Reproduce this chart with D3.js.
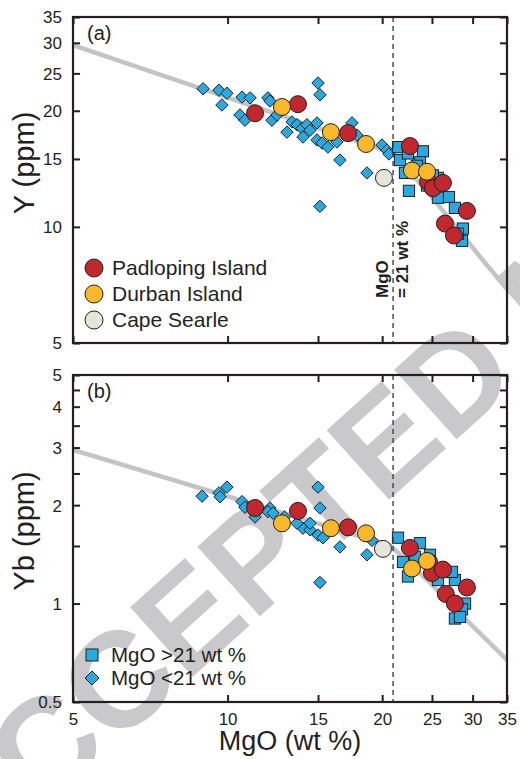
<!DOCTYPE html>
<html><head><meta charset="utf-8">
<script src="https://cdn.jsdelivr.net/npm/d3@7"></script>
<style>
html,body{margin:0;padding:0;background:#fff;}
svg{display:block;}
text{font-family:"Liberation Sans",Arial,sans-serif;fill:#231f20;}
</style></head>
<body>
<svg id="chart" width="520" height="759"></svg>
<script>
// ---------- DATA ----------
const xTicks = [5, 10, 15, 20, 25, 30, 35];
const yTicksA = [5, 10, 15, 20, 25, 30, 35];
const yTicksB = [0.5, 1, 1.5, 2, 2.5, 3, 3.5, 4, 4.5, 5];
const yLabelsB = [0.5, 1, 2, 3, 4, 5];
const mgoCut = 21;

// trend lines (MgO, value)
const trendA_mgo = [5, 20.7, 21.7, 24.8, 31.4, 35];
const trendA_y   = [29.6, 15.6, 14.8, 12.1, 8.2, 6.9];
const trendB_mgo = [5, 20.7, 24.8, 29.2, 35];
const trendB_yb  = [2.95, 1.51, 1.156, 0.89, 0.672];

// Panel (a) Y ppm
const padA_mgo = [11.31, 13.71, 17.16, 22.65, 24.56, 25.11, 26.26, 26.5, 27.59, 29.24];
const padA_y   = [19.7, 20.8, 17.5, 16.2, 13.1, 12.6, 13.0, 10.2, 9.5, 11.0];
const durA_mgo = [12.76, 15.89, 18.6, 22.86, 24.45];
const durA_y   = [20.45, 17.6, 16.4, 14.0, 13.9];
const capeA_mgo = [20.16];
const capeA_y   = [13.4];
const sqA_mgo = [21.47, 21.66, 22.45, 24.01, 23.69, 22.15, 22.55, 24.45, 25.68, 25.68, 26.98, 27.71, 28.72, 28.6, 28.09, 25.11, 23.37];
const sqA_y   = [16.1, 14.9, 15.5, 15.7, 14.7, 13.8, 12.4, 12.8, 13.4, 11.9, 11.95, 11.2, 9.9, 9.2, 9.6, 13.6, 14.4];
const diA_mgo = [8.96, 9.62, 9.97, 9.75, 10.67, 11.06, 11.98, 12.09, 10.57, 10.81, 12.20, 12.48, 13.05, 13.35, 13.65, 13.96, 14.02, 14.27, 14.47, 14.93, 15.0, 15.13, 14.93, 15.27, 15.68, 16.33, 16.55, 17.47, 17.86, 18.68, 15.13, 19.98, 20.43, 20.62];
const diA_y   = [22.8, 22.6, 22.2, 20.7, 21.7, 21.6, 21.6, 21.2, 19.5, 18.9, 18.9, 19.5, 17.6, 18.7, 18.4, 18.0, 17.1, 18.4, 17.8, 18.6, 23.6, 22.0, 16.8, 16.5, 16.1, 16.6, 14.9, 18.6, 17.3, 13.8, 11.3, 16.3, 15.8, 15.45];

// Panel (b) Yb ppm
const padB_mgo = [11.31, 13.71, 17.16, 22.65, 24.67, 25.0, 26.26, 26.6, 27.71, 29.24];
const padB_yb  = [1.96, 1.92, 1.71, 1.48, 1.34, 1.24, 1.27, 1.07, 1.00, 1.12];
const durB_mgo = [12.76, 15.89, 18.6, 22.86, 24.45];
const durB_yb  = [1.76, 1.70, 1.64, 1.28, 1.35];
const capeB_mgo = [20.07];
const capeB_yb  = [1.47];
const sqB_mgo = [21.47, 23.69, 21.96, 22.45, 25.68, 27.71, 27.35, 29.0, 28.6, 27.71, 28.35, 23.17, 24.78];
const sqB_yb  = [1.59, 1.53, 1.34, 1.21, 1.18, 1.18, 1.25, 1.00, 0.96, 0.90, 0.91, 1.39, 1.41];
const diB_mgo = [8.92, 9.62, 9.97, 9.67, 10.67, 10.81, 11.31, 12.09, 11.98, 12.26, 12.9, 14.02, 14.47, 15.0, 15.13, 15.0, 15.34, 16.55, 18.68, 15.13, 14.47, 13.65, 19.1];
const diB_yb  = [2.13, 2.18, 2.27, 2.12, 2.05, 1.97, 1.84, 1.96, 1.91, 1.89, 1.84, 1.70, 1.68, 2.27, 1.96, 1.62, 1.59, 1.49, 1.41, 1.16, 1.76, 1.76, 1.56];

const legendA = ["Padloping Island", "Durban Island", "Cape Searle"];
const legendB = ["MgO >21 wt %", "MgO <21 wt %"];

// ---------- STYLE ----------
const C_RED = "#c1272d", C_YEL = "#fbb829", C_CAPE = "#e6e5da", C_BLUE = "#27aae1";
const C_GREY = "#c4c4c4", C_INK = "#231f20";

const L = 73, R = 507;
const svg = d3.select("#chart");

const x = d3.scaleLog().domain([5, 35]).range([L, R]);
const yA = d3.scaleLog().domain([5, 35]).range([343, 17]);
const yB = d3.scaleLog().domain([0.5, 5]).range([702, 375]);

// watermark
svg.append("text")
  .attr("transform", "translate(-33,880) rotate(-42)")
  .attr("font-size", 136).attr("font-weight", "bold")
  .style("fill", "#c9c9cb")
  .text("ACCEPTED MANUSCRIPT");

function zip(a, b) { return a.map((v, i) => [v, b[i]]); }

function panel(y, opts) {
  const [y0, y1] = y.range();
  const g = svg.append("g");
  const clipId = "clip" + opts.id;
  svg.append("clipPath").attr("id", clipId).append("rect")
    .attr("x", L).attr("y", y1).attr("width", R - L).attr("height", y0 - y1);
  const inner = g.append("g").attr("clip-path", `url(#${clipId})`);

  // trend line
  inner.append("path")
    .datum(zip(opts.trend[0], opts.trend[1]))
    .attr("d", d3.line().x(d => x(d[0])).y(d => y(d[1])))
    .attr("fill", "none").attr("stroke", C_GREY).attr("stroke-width", 4.5)
    .attr("stroke-linejoin", "round");

  // dashed cut line
  g.append("line")
    .attr("x1", x(mgoCut)).attr("x2", x(mgoCut)).attr("y1", y1).attr("y2", y0)
    .attr("stroke", "#333").attr("stroke-width", 1.3).attr("stroke-dasharray", "5,4");

  // diamonds
  const dm = 6.2;
  inner.selectAll(".di").data(zip(opts.di[0], opts.di[1])).join("path")
    .attr("d", d => { const cx = x(d[0]), cy = y(d[1]);
      return `M${cx},${cy - dm}L${cx + dm},${cy}L${cx},${cy + dm}L${cx - dm},${cy}Z`; })
    .attr("fill", C_BLUE).attr("stroke", C_INK).attr("stroke-width", 1);
  // squares
  const sq = 5.6;
  inner.selectAll(".sq").data(zip(opts.sq[0], opts.sq[1])).join("rect")
    .attr("x", d => x(d[0]) - sq).attr("y", d => y(d[1]) - sq)
    .attr("width", 2 * sq).attr("height", 2 * sq)
    .attr("fill", C_BLUE).attr("stroke", C_INK).attr("stroke-width", 1);
  // circles
  [[opts.pad, C_RED], [opts.dur, C_YEL], [opts.cape, C_CAPE]].forEach(([s, c]) => {
    inner.selectAll(null).data(zip(s[0], s[1])).join("circle")
      .attr("cx", d => x(d[0])).attr("cy", d => y(d[1])).attr("r", 8.5)
      .attr("fill", c).attr("stroke", C_INK).attr("stroke-width", 1);
  });

  // axes: ticks inward on all four sides
  const tl = 7;
  const axL = d3.axisLeft(y).tickValues(opts.yTicks).tickSize(-tl)
    .tickFormat(d => opts.yLabels.includes(d) ? d3.format("")(d) : "").tickPadding(tl + 4);
  const gl = g.append("g").attr("transform", `translate(${L},0)`).call(axL);
  const axR = d3.axisRight(y).tickValues(opts.yTicks).tickSize(-tl).tickFormat("");
  const gr = g.append("g").attr("transform", `translate(${R},0)`).call(axR);
  const axT = d3.axisTop(x).tickValues(xTicks).tickSize(-tl).tickFormat("");
  const gt = g.append("g").attr("transform", `translate(0,${y1})`).call(axT);
  const axB = d3.axisBottom(x).tickValues(xTicks).tickSize(-tl)
    .tickFormat(opts.xLabels ? d3.format("") : "").tickPadding(tl + 4);
  const gb = g.append("g").attr("transform", `translate(0,${y0})`).call(axB);
  [gl, gr, gt, gb].forEach(a => {
    a.select(".domain").remove();
    a.selectAll(".tick line").attr("stroke", C_INK).attr("stroke-width", 2);
    a.selectAll(".tick text").attr("font-size", 17).style("fill", C_INK)
      .attr("font-family", '"Liberation Sans",Arial,sans-serif');
  });
  gl.selectAll(".tick text").attr("dy", "0.35em");
  gb.selectAll(".tick text").attr("dy", "0.72em");
  // frame
  g.append("rect").attr("x", L).attr("y", y1).attr("width", R - L).attr("height", y0 - y1)
    .attr("fill", "none").attr("stroke", C_INK).attr("stroke-width", 2.2);

  // panel tag
  g.append("text").attr("x", L + 14).attr("y", y1 + 23).attr("font-size", 20).text(opts.tag);
  // y title
  g.append("text").attr("transform", `translate(${opts.titleX},${opts.titleY}) rotate(-90)`)
    .attr("text-anchor", "middle").attr("font-size", 29).text(opts.title);
  return g;
}

const gA = panel(yA, {
  id: "a", trend: [trendA_mgo, trendA_y], di: [diA_mgo, diA_y], sq: [sqA_mgo, sqA_y],
  pad: [padA_mgo, padA_y], dur: [durA_mgo, durA_y], cape: [capeA_mgo, capeA_y],
  yTicks: yTicksA, yLabels: yTicksA, xLabels: false, tag: "(a)",
  title: "Y (ppm)", titleX: 34, titleY: 163
});
const gB = panel(yB, {
  id: "b", trend: [trendB_mgo, trendB_yb], di: [diB_mgo, diB_yb], sq: [sqB_mgo, sqB_yb],
  pad: [padB_mgo, padB_yb], dur: [durB_mgo, durB_yb], cape: [capeB_mgo, capeB_yb],
  yTicks: yTicksB, yLabels: yLabelsB, xLabels: true, tag: "(b)",
  title: "Yb (ppm)", titleX: 34, titleY: 531
});

// x title
svg.append("text").attr("x", 290).attr("y", 750).attr("text-anchor", "middle")
  .attr("font-size", 27).text("MgO (wt %)");

// cut annotation in panel (a)
const ann = svg.append("text").attr("transform", `translate(${x(mgoCut) - 5},298) rotate(-90)`)
  .attr("font-size", 17).attr("font-weight", "bold");
ann.append("tspan").attr("x", 0).attr("y", 0).text("MgO");
ann.append("tspan").attr("x", 0).attr("y", 20).text("= 21 wt %");

// legend (a)
const legColsA = [C_RED, C_YEL, C_CAPE];
legendA.forEach((t, i) => {
  const cy = 268 + i * 26;
  svg.append("circle").attr("cx", 94).attr("cy", cy).attr("r", 9)
    .attr("fill", legColsA[i]).attr("stroke", C_INK).attr("stroke-width", 1);
  svg.append("text").attr("x", 112).attr("y", cy + 7).attr("font-size", 21).text(t);
});
// legend (b)
legendB.forEach((t, i) => {
  const cy = 655 + i * 23;
  if (i === 0) {
    svg.append("rect").attr("x", 86).attr("y", cy - 6).attr("width", 12).attr("height", 12)
      .attr("fill", C_BLUE).attr("stroke", C_INK).attr("stroke-width", 1);
  } else {
    svg.append("path").attr("d", `M92,${cy - 7}L99,${cy}L92,${cy + 7}L85,${cy}Z`)
      .attr("fill", C_BLUE).attr("stroke", C_INK).attr("stroke-width", 1);
  }
  svg.append("text").attr("x", 111).attr("y", cy + 7).attr("font-size", 20.5).text(t);
});
</script>
</body></html>
